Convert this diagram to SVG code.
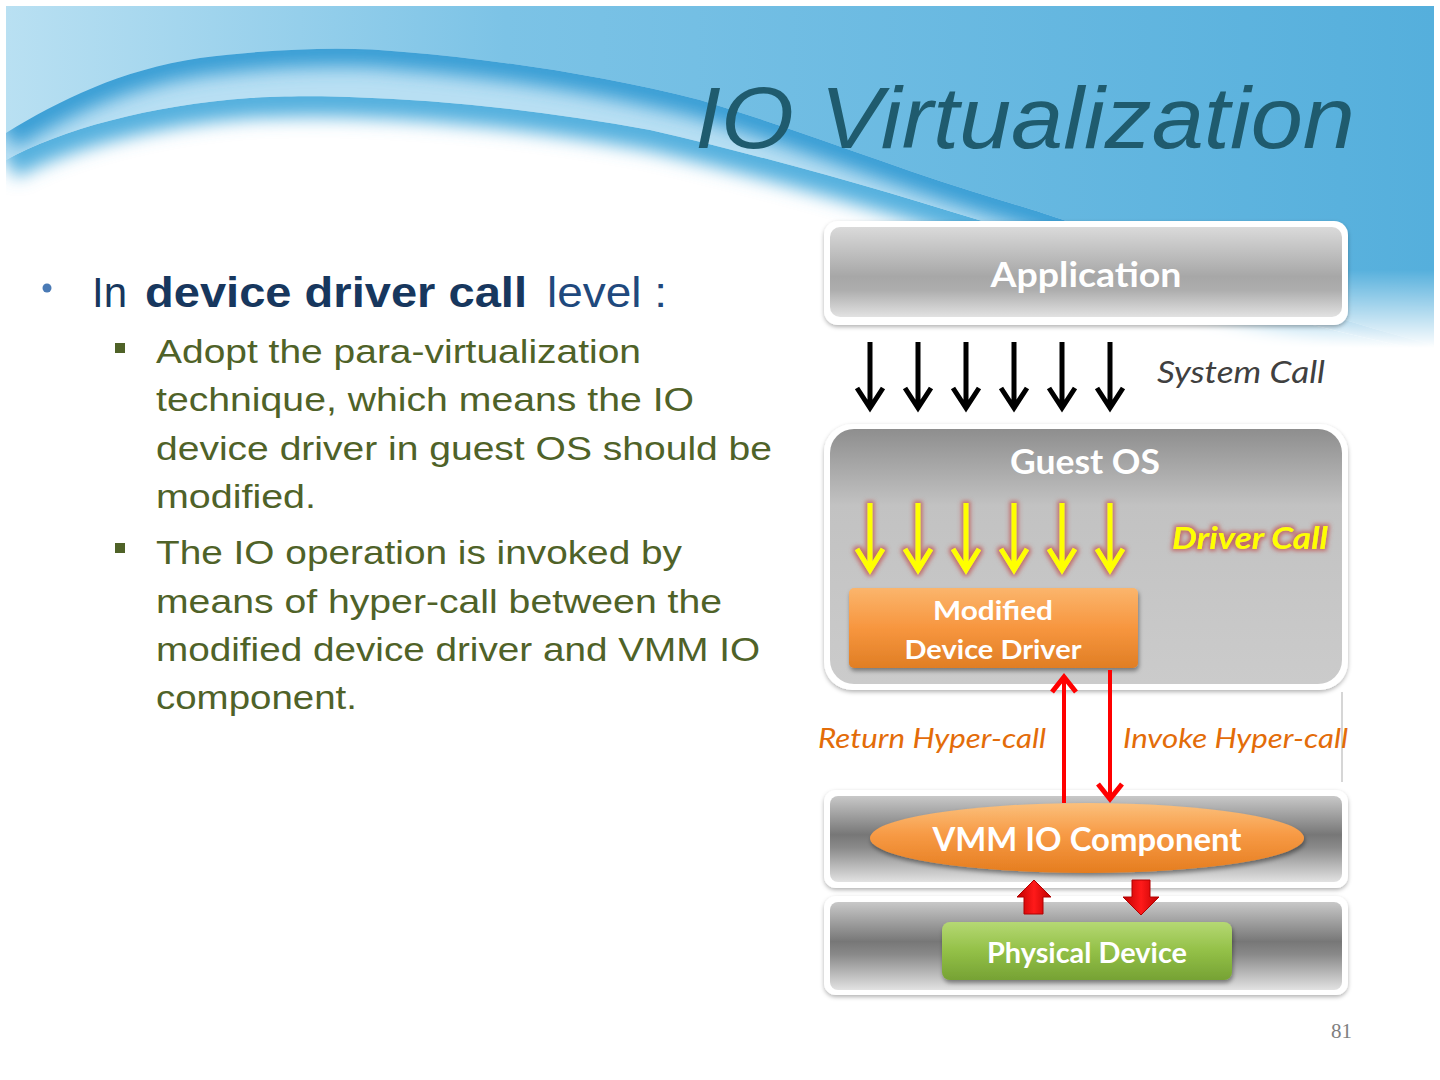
<svg xmlns="http://www.w3.org/2000/svg" width="1440" height="1080" viewBox="0 0 1440 1080">
<style>
.sub{font-family:"Liberation Sans",Arial,sans-serif;font-size:34px;fill:#4f6228}
.lbl{font-family:Lato,"Liberation Sans",sans-serif;font-weight:bold;fill:#ffffff;text-anchor:middle}
.hc{font-family:Lato,"Liberation Sans",sans-serif;font-style:italic;font-size:27px;fill:#e36c09}
.frame{fill:#ffffff;filter:url(#shadow)}
</style>
<defs>
<linearGradient id="sky" x1="0" y1="0" x2="1" y2="0">
<stop offset="0" stop-color="#b9e0f2"/><stop offset="0.35" stop-color="#7cc3e6"/><stop offset="1" stop-color="#55afdc"/>
</linearGradient>
<linearGradient id="fadeMask" gradientUnits="userSpaceOnUse" x1="0" y1="270" x2="0" y2="348">
<stop offset="0" stop-color="#fff"/><stop offset="1" stop-color="#000"/>
</linearGradient>
<mask id="skyMask"><rect x="0" y="0" width="1440" height="348" fill="url(#fadeMask)"/></mask>
<path id="curve1" d="M6,133 C60,100 120,70 200,58 C280,48 350,46 404,52 C500,60 600,75 700,100 C800,130 900,170 1000,200 C1050,215 1080,225 1102,235 C1200,275 1320,315 1434,345"/>
<path id="curve2" d="M6,160 C60,130 150,105 250,98 C290,96 320,96 349,97 C450,100 550,112 650,130 C780,160 900,195 1010,230 C1120,265 1260,320 1434,352"/>
<clipPath id="clip1"><path d="M6,133 C60,100 120,70 200,58 C280,48 350,46 404,52 C500,60 600,75 700,100 C800,130 900,170 1000,200 C1050,215 1080,225 1102,235 C1200,275 1320,315 1434,345 L1434,400 L6,400 Z"/></clipPath>
<clipPath id="clip2"><path d="M6,160 C60,130 150,105 250,98 C290,96 320,96 349,97 C450,100 550,112 650,130 C780,160 900,195 1010,230 C1120,265 1260,320 1434,352 L1434,400 L6,400 Z"/></clipPath>
<filter id="soft" filterUnits="userSpaceOnUse" x="-50" y="-50" width="1540" height="500">
<feGaussianBlur stdDeviation="9"/>
</filter>
<linearGradient id="appG" x1="0" y1="0" x2="0" y2="1">
<stop offset="0" stop-color="#dadada"/><stop offset="0.55" stop-color="#a7a7a7"/><stop offset="0.7" stop-color="#adadad"/><stop offset="1" stop-color="#e2e2e2"/>
</linearGradient>
<linearGradient id="guestG" x1="0" y1="0" x2="0" y2="1">
<stop offset="0" stop-color="#8e8e8e"/><stop offset="0.3" stop-color="#c2c2c2"/><stop offset="1" stop-color="#cbcbcb"/>
</linearGradient>
<linearGradient id="layerG" x1="0" y1="0" x2="0" y2="1">
<stop offset="0" stop-color="#c8c8c8"/><stop offset="0.45" stop-color="#777777"/><stop offset="0.6" stop-color="#8a8a8a"/><stop offset="1" stop-color="#e2e2e2"/>
</linearGradient>
<linearGradient id="orangeG" x1="0" y1="0" x2="0" y2="1">
<stop offset="0" stop-color="#fbb56c"/><stop offset="0.5" stop-color="#f7963f"/><stop offset="1" stop-color="#e07e24"/>
</linearGradient>
<linearGradient id="ellG" x1="0" y1="0" x2="0" y2="1">
<stop offset="0" stop-color="#fbc07c"/><stop offset="0.45" stop-color="#f79a45"/><stop offset="1" stop-color="#e57d1f"/>
</linearGradient>
<linearGradient id="greenG" x1="0" y1="0" x2="0" y2="1">
<stop offset="0" stop-color="#b5d873"/><stop offset="0.5" stop-color="#93c047"/><stop offset="1" stop-color="#76a234"/>
</linearGradient>
<linearGradient id="redG" x1="0" y1="0" x2="1" y2="0">
<stop offset="0" stop-color="#c00000"/><stop offset="0.5" stop-color="#ff1a1a"/><stop offset="1" stop-color="#c00000"/>
</linearGradient>
<filter id="shadow" x="-5%" y="-10%" width="110%" height="125%">
<feDropShadow dx="0" dy="2" stdDeviation="2" flood-color="#000" flood-opacity="0.3"/>
</filter>
<filter id="ds" x="-5%" y="-10%" width="115%" height="130%">
<feDropShadow dx="1" dy="3" stdDeviation="2" flood-color="#000" flood-opacity="0.4"/>
</filter>
<filter id="glow" x="-30%" y="-30%" width="160%" height="160%">
<feMorphology in="SourceAlpha" operator="dilate" radius="2" result="d"/>
<feGaussianBlur in="d" stdDeviation="2" result="b"/>
<feFlood flood-color="#c0504d" flood-opacity="0.75"/>
<feComposite in2="b" operator="in" result="g"/>
<feMerge><feMergeNode in="g"/><feMergeNode in="SourceGraphic"/></feMerge>
</filter>
</defs>

<rect width="1440" height="1080" fill="#ffffff"/>

<!-- header background -->
<g id="header" mask="url(#skyMask)">
<rect x="6" y="6" width="1428" height="342" fill="url(#sky)"/>
<g clip-path="url(#clip1)">
<rect x="6" y="6" width="1428" height="394" fill="#b8dff3"/>
<use href="#curve1" fill="none" stroke="#3b9fd5" stroke-width="36" filter="url(#soft)"/>
</g>
<g clip-path="url(#clip2)">
<rect x="6" y="6" width="1428" height="394" fill="#ffffff"/>
<use href="#curve2" fill="none" stroke="#55b0de" stroke-width="40" filter="url(#soft)"/>
</g>
</g>

<text x="695" y="148" font-family="Liberation Sans, Arial, sans-serif" font-style="italic" font-size="88" fill="#1f5b6e" textLength="660" lengthAdjust="spacingAndGlyphs">IO Virtualization</text>

<!-- left text -->
<g id="bullets">
<circle cx="47" cy="288" r="4.5" fill="#4a7ab5"/>
<text y="307" font-family="Liberation Sans, Arial, sans-serif" font-size="42" fill="#17375e"><tspan x="92">In</tspan><tspan x="145" font-weight="bold" textLength="382" lengthAdjust="spacingAndGlyphs">device driver call</tspan><tspan x="547" fill="#1f497d" textLength="120" lengthAdjust="spacingAndGlyphs">level :</tspan></text>
<rect x="115" y="343" width="10" height="10" fill="#4f6228"/>
<rect x="115" y="543" width="10" height="10" fill="#4f6228"/>
<text class="sub" x="156" y="363" textLength="485" lengthAdjust="spacingAndGlyphs">Adopt the para-virtualization</text>
<text class="sub" x="156" y="411" textLength="538" lengthAdjust="spacingAndGlyphs">technique, which means the IO</text>
<text class="sub" x="156" y="460" textLength="616" lengthAdjust="spacingAndGlyphs">device driver in guest OS should be</text>
<text class="sub" x="156" y="508" textLength="160" lengthAdjust="spacingAndGlyphs">modified.</text>
<text class="sub" x="156" y="564" textLength="526" lengthAdjust="spacingAndGlyphs">The IO operation is invoked by</text>
<text class="sub" x="156" y="613" textLength="566" lengthAdjust="spacingAndGlyphs">means of hyper-call between the</text>
<text class="sub" x="156" y="661" textLength="604" lengthAdjust="spacingAndGlyphs">modified device driver and VMM IO</text>
<text class="sub" x="156" y="709" textLength="201" lengthAdjust="spacingAndGlyphs">component.</text>
</g>

<!-- nodes -->
<g id="application">
<rect class="frame" x="824" y="221" width="524" height="104" rx="14"/>
<rect x="830" y="227" width="512" height="90" rx="10" fill="url(#appG)"/>
<text class="lbl" x="1086" y="287" font-size="34" textLength="191" lengthAdjust="spacingAndGlyphs">Application</text>
</g>

<g id="guest-os">
<rect class="frame" x="824" y="424" width="524" height="266" rx="28"/>
<rect x="830" y="429" width="512" height="255" rx="24" fill="url(#guestG)"/>
<text class="lbl" x="1085" y="474" font-size="34" textLength="150" lengthAdjust="spacingAndGlyphs">Guest OS</text>
</g>

<g id="modified-device-driver">
<rect x="849" y="588" width="289" height="80" rx="5" fill="url(#orangeG)" filter="url(#ds)"/>
<text class="lbl" x="993" y="620" font-size="27" textLength="120" lengthAdjust="spacingAndGlyphs">Modified</text>
<text class="lbl" x="993" y="659" font-size="27" textLength="177" lengthAdjust="spacingAndGlyphs">Device Driver</text>
</g>

<g id="vmm-layer">
<rect class="frame" x="824" y="790" width="524" height="98" rx="12"/>
<rect x="830" y="796" width="512" height="86" rx="8" fill="url(#layerG)"/>
</g>

<g id="physical-layer">
<rect class="frame" x="824" y="896" width="524" height="99" rx="12"/>
<rect x="830" y="902" width="512" height="88" rx="8" fill="url(#layerG)"/>
</g>

<g id="vmm-io-component">
<ellipse cx="1087" cy="838" rx="217" ry="35" fill="url(#ellG)" filter="url(#ds)"/>
<text class="lbl" x="1087" y="851" font-size="32" textLength="309" lengthAdjust="spacingAndGlyphs">VMM IO Component</text>
</g>

<g id="physical-device">
<rect x="942" y="922" width="290" height="58" rx="8" fill="url(#greenG)" filter="url(#ds)"/>
<text class="lbl" x="1087" y="963" font-size="29" textLength="200" lengthAdjust="spacingAndGlyphs">Physical Device</text>
</g>

<line x1="1342" y1="692" x2="1342" y2="782" stroke="#c8c8c8" stroke-width="1.5"/>

<!-- connectors -->
<g id="connectors">
<g id="system-calls" stroke="#000" stroke-width="5" fill="none" stroke-linejoin="miter">
<path d="M870,342 V405 M857,388 L870,408 L883,388"/>
<path d="M918,342 V405 M905,388 L918,408 L931,388"/>
<path d="M966,342 V405 M953,388 L966,408 L979,388"/>
<path d="M1014,342 V405 M1001,388 L1014,408 L1027,388"/>
<path d="M1062,342 V405 M1049,388 L1062,408 L1075,388"/>
<path d="M1110,342 V405 M1097,388 L1110,408 L1123,388"/>
</g>
<g id="driver-calls" stroke="#ffff00" stroke-width="5" fill="none" filter="url(#glow)">
<path d="M870,503 V567 M857,549 L870,570 L883,549"/>
<path d="M918,503 V567 M905,549 L918,570 L931,549"/>
<path d="M966,503 V567 M953,549 L966,570 L979,549"/>
<path d="M1014,503 V567 M1001,549 L1014,570 L1027,549"/>
<path d="M1062,503 V567 M1049,549 L1062,570 L1075,549"/>
<path d="M1110,503 V567 M1097,549 L1110,570 L1123,549"/>
</g>
<g id="hyper-calls" stroke="#ff0000" stroke-width="4" fill="none">
<path d="M1064,803 V678"/>
<path d="M1052,692 L1064,677 L1076,692" stroke-width="5"/>
<path d="M1110,670 V797"/>
<path d="M1098,784 L1110,799 L1122,784" stroke-width="5"/>
</g>
<g id="device-io" fill="url(#redG)" stroke="#b00000" stroke-width="1">
<polygon points="1034,880 1051,897 1043,897 1043,914 1024,914 1024,897 1017,897"/>
<polygon points="1141,915 1123,897 1132,897 1132,880 1150,880 1150,897 1159,897"/>
</g>
</g>

<!-- labels -->
<g id="labels">
<text x="1157" y="383" font-family="Lato, Liberation Sans, sans-serif" font-style="italic" font-size="30" fill="#404040" textLength="168" lengthAdjust="spacingAndGlyphs">System Call</text>
<g filter="url(#glow)">
<text x="1172" y="549" font-family="Lato, Liberation Sans, sans-serif" font-style="italic" font-weight="bold" font-size="30" fill="#ffff00" textLength="156" lengthAdjust="spacingAndGlyphs">Driver Call</text>
</g>
<text class="hc" x="818" y="748" textLength="228" lengthAdjust="spacingAndGlyphs">Return Hyper-call</text>
<text class="hc" x="1123" y="748" textLength="225" lengthAdjust="spacingAndGlyphs">Invoke Hyper-call</text>
</g>

<text x="1352" y="1038" text-anchor="end" font-family="Liberation Serif, serif" font-size="21" fill="#7f7f7f">81</text>
</svg>
